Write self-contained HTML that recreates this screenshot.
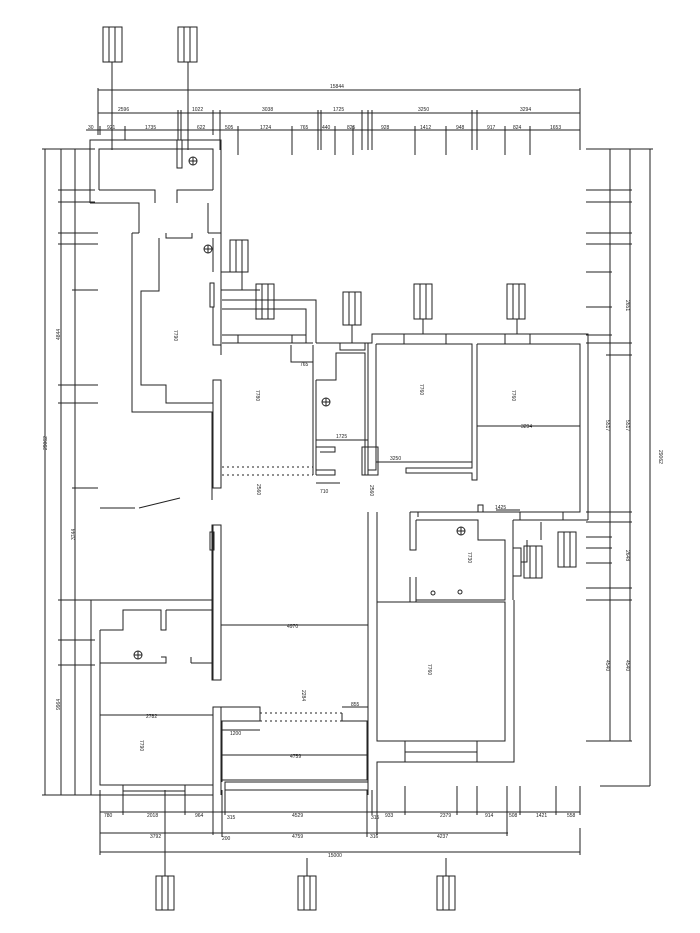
<!DOCTYPE html>
<html><head><meta charset="utf-8"><style>
html,body{margin:0;padding:0;background:#fff;}
svg{display:block;}
text{font-family:"Liberation Sans",sans-serif;font-size:5px;fill:#222;}
</style></head><body>
<svg width="700" height="933" viewBox="0 0 700 933" xmlns="http://www.w3.org/2000/svg">
<g fill="none" stroke="#222" stroke-width="1">
<!-- top tags -->
<rect x="103" y="27" width="19" height="35"/><line x1="109" y1="27" x2="109" y2="62"/><line x1="115" y1="27" x2="115" y2="62"/>
<rect x="178" y="27" width="19" height="35"/><line x1="184" y1="27" x2="184" y2="62"/><line x1="190" y1="27" x2="190" y2="62"/>
<line x1="112" y1="62" x2="112" y2="150"/><line x1="188" y1="62" x2="188" y2="150"/>
<!-- top dims -->
<line x1="98" y1="90" x2="580" y2="90"/>
<line x1="98" y1="113" x2="580" y2="113"/>
<line x1="86" y1="130" x2="580" y2="130"/>
<path d="M98,88V135 M178,110V140 M181,110V140 M213,110V135 M220,110V150 M318,110V150 M321,110V150 M362,110V150 M368,110V150 M372,110V150 M472,110V150 M477,110V150 M580,88V150 M125,126V140 M238,126V155 M292,126V155 M335,126V155 M353,126V155 M415,126V155 M446,126V155 M505,126V155 M530,126V155 M100,126V135"/>
<!-- left dims -->
<line x1="45" y1="149" x2="45" y2="795"/><line x1="61" y1="149" x2="61" y2="795"/><line x1="75" y1="149" x2="75" y2="795"/>
<path d="M42,149H95 M58,190H95 M58,202H95 M58,233H98 M58,244H98 M72,290H98 M58,385H98 M58,403H98 M72,488H98 M58,600H95 M58,640H95 M58,665H95 M42,795H95"/>
<!-- right dims -->
<line x1="610" y1="149" x2="610" y2="741"/><line x1="630" y1="149" x2="630" y2="741"/><line x1="650" y1="149" x2="650" y2="786"/>
<path d="M586,149H653 M586,190H632 M586,202H632 M586,233H632 M586,244H632 M586,272H612 M586,307H612 M586,335H612 M586,343H632 M606,355H632 M586,512H632 M586,522H632 M586,537H612 M586,548H612 M586,563H612 M586,588H632 M586,600H632 M586,741H632 M625,786H650"/>
<!-- bottom dims -->
<line x1="100" y1="812" x2="580" y2="812"/><line x1="100" y1="833" x2="508" y2="833"/><line x1="100" y1="852" x2="580" y2="852"/>
<path d="M100,790V855 M123,790V815 M185,790V815 M213,795V835 M222,790V837 M225,790V815 M367,790V837 M372,790V815 M377,790V835 M405,786V815 M457,786V815 M477,786V815 M507,786V836 M520,786V815 M556,786V815 M580,786V815 M580,828V855"/>
<!-- bottom tags -->
<rect x="156" y="876" width="18" height="34"/><line x1="162" y1="876" x2="162" y2="910"/><line x1="168" y1="876" x2="168" y2="910"/>
<rect x="298" y="876" width="18" height="34"/><line x1="304" y1="876" x2="304" y2="910"/><line x1="310" y1="876" x2="310" y2="910"/>
<rect x="437" y="876" width="18" height="34"/><line x1="443" y1="876" x2="443" y2="910"/><line x1="449" y1="876" x2="449" y2="910"/>
<line x1="165" y1="790" x2="165" y2="876"/><line x1="307" y1="858" x2="307" y2="876"/><line x1="446" y1="858" x2="446" y2="876"/>

<!-- ===== walls ===== -->
<!-- top-left block -->
<path d="M90,203V140H221V355 M99,190V149H213V190 M99,190H155V203 M177,203V190H213 M90,203H139V233 M208,203V233"/>
<rect x="177" y="140" width="5" height="28"/>
<circle cx="193" cy="161" r="4"/><path d="M189,161H197 M193,157V165"/>
<!-- left room -->
<path d="M132,233V412H212V500 M132,233H139 M208,233H221 M166,233V238H192V233 M159,238V291H141V385H166V403H213V380 M213,238V272 M213,307V345H221"/>
<rect x="210" y="283" width="4" height="24"/>
<circle cx="208" cy="249" r="4"/><path d="M204,249H212 M208,245V253"/>
<!-- service area -->
<path d="M222,300H316V343 M222,309H306V335H222 M306,335V343 M222,343H313 M221,272H232 M221,290H260"/>
<rect x="238" y="335" width="54" height="8"/>
<path d="M316,343H340 M365,343H372V334H588V520 M372,334V343"/>
<rect x="340" y="343" width="25" height="7"/>
<!-- living (7780) -->
<rect x="213" y="380" width="8" height="108"/>
<path d="M313,345V475 M316,380V475 M316,380H336V353H365V475 M365,353V468 M368,343V475 M316,447H335V452H320 M316,470H335V475H316"/>
<path d="M222,467H313 M222,475H313" stroke-dasharray="2,3"/>
<circle cx="326" cy="402" r="4"/><path d="M322,402H330 M326,398V406"/>
<!-- right rooms -->
<path d="M376,344V470H368 M376,344H472V468H406V473H472V480H477V344 M477,344H580V512H418V517 M580,344V512 M477,426H580"/>
<rect x="404" y="334" width="42" height="10"/>
<rect x="505" y="334" width="25" height="10"/>
<rect x="362" y="447" width="16" height="28"/>
<!-- lower right room 7730 -->
<path d="M410,512H472 M416,520V550H410V512 M416,577V602H410V577 M416,520H478V540H505V600H416 M513,520V600 M513,520H588 M478,512V505H483V512"/>
<rect x="520" y="512" width="43" height="8"/>
<rect x="513" y="548" width="8" height="28"/>
<circle cx="461" cy="531" r="4"/><path d="M457,531H465 M461,527V535"/>
<circle cx="433" cy="593" r="2"/><circle cx="460" cy="592" r="2"/>
<!-- right tags near 7730 -->
<path d="M521,562H527V540 M541,540V522"/>
<!-- lower right bedroom 7760 -->
<path d="M377,602H505V741H377Z M514,600V762H377V795 M368,512V795 M377,512V741"/>
<rect x="405" y="741" width="72" height="21"/><line x1="405" y1="752" x2="477" y2="752"/>
<!-- middle hall walls -->
<path d="M212,525V680H221V525Z"/>
<rect x="213" y="525" width="8" height="155"/>
<rect x="210" y="532" width="4" height="18"/>
<line x1="221" y1="625" x2="368" y2="625"/>
<!-- lower left -->
<path d="M91,600V795H213V707H221V795 M91,600H212 M100,630V785H213 M100,630H123V610H161V630H166V610 M166,610H212 M100,663H166V657H161 M191,663H212 M191,657V663"/>
<rect x="123" y="785" width="62" height="6"/>
<line x1="100" y1="715" x2="213" y2="715"/>
<circle cx="138" cy="655" r="4"/><path d="M134,655H142 M138,651V659"/>
<!-- lower middle -->
<path d="M221,707H260V721H222V782 M342,713V721H367V780H225 M342,707H368 M222,780H367"/>
<path d="M260,713H342 M260,721H342" stroke-dasharray="2,3"/>
<path d="M225,782H368V790H225Z"/>
<line x1="222" y1="755" x2="367" y2="755"/>
<line x1="222" y1="730" x2="260" y2="730"/>
<!-- misc dim lines -->
<path d="M291,345V362H313 M316,440H368 M316,483H340 M376,462H472 M477,426H580 M496,510H520 M139,508L180,498 M100,508H135"/>
<!-- small tags in middle -->
<rect x="230" y="240" width="18" height="32"/><line x1="236" y1="240" x2="236" y2="272"/><line x1="242" y1="240" x2="242" y2="272"/>
<line x1="242" y1="272" x2="242" y2="290"/><line x1="221" y1="290" x2="242" y2="290"/>
<rect x="256" y="284" width="18" height="35"/><line x1="262" y1="284" x2="262" y2="319"/><line x1="268" y1="284" x2="268" y2="319"/>
<rect x="343" y="292" width="18" height="33"/><line x1="349" y1="292" x2="349" y2="325"/><line x1="355" y1="292" x2="355" y2="325"/>
<line x1="352" y1="325" x2="352" y2="343"/>
<rect x="414" y="284" width="18" height="35"/><line x1="420" y1="284" x2="420" y2="319"/><line x1="426" y1="284" x2="426" y2="319"/>
<line x1="423" y1="319" x2="423" y2="334"/>
<rect x="507" y="284" width="18" height="35"/><line x1="513" y1="284" x2="513" y2="319"/><line x1="519" y1="284" x2="519" y2="319"/>
<line x1="517" y1="319" x2="517" y2="334"/>
<rect x="524" y="546" width="18" height="32"/><line x1="530" y1="546" x2="530" y2="578"/><line x1="536" y1="546" x2="536" y2="578"/>
<rect x="558" y="532" width="18" height="35"/><line x1="564" y1="532" x2="564" y2="567"/><line x1="570" y1="532" x2="570" y2="567"/>
<!-- far right outer short lines -->
<path d="M586,149H590 M600,786H650"/>
</g>
<g>
<text x="330" y="88">15844</text>
<text x="118" y="111">2596</text><text x="192" y="111">1022</text><text x="262" y="111">3038</text><text x="333" y="111">1725</text><text x="418" y="111">3250</text><text x="520" y="111">3294</text>
<text x="88" y="129">30</text><text x="107" y="129">921</text><text x="145" y="129">1735</text><text x="197" y="129">622</text><text x="225" y="129">505</text><text x="260" y="129">1724</text><text x="300" y="129">765</text><text x="322" y="129">440</text><text x="347" y="129">825</text><text x="381" y="129">928</text><text x="420" y="129">1412</text><text x="456" y="129">948</text><text x="487" y="129">917</text><text x="513" y="129">824</text><text x="550" y="129">1653</text>
<text x="104" y="817">780</text><text x="147" y="817">2018</text><text x="195" y="817">964</text><text x="227" y="819">315</text><text x="292" y="817">4529</text><text x="371" y="819">315</text><text x="385" y="817">933</text><text x="440" y="817">2379</text><text x="485" y="817">914</text><text x="509" y="817">508</text><text x="536" y="817">1421</text><text x="567" y="817">558</text>
<text x="150" y="838">3792</text><text x="222" y="840">200</text><text x="292" y="838">4759</text><text x="370" y="838">316</text><text x="437" y="838">4237</text>
<text x="328" y="857">15000</text>
<text x="287" y="628">4970</text><text x="146" y="718">2782</text><text x="230" y="735">1200</text><text x="290" y="758">4759</text><text x="351" y="706">855</text>
<text x="300" y="366">765</text><text x="336" y="438">1725</text><text x="390" y="460">3250</text><text x="521" y="428">3294</text><text x="320" y="493">710</text><text x="495" y="509">1425</text>
<text transform="translate(256,390) rotate(90)">7780</text>
<text transform="translate(174,330) rotate(90)">7790</text>
<text transform="translate(420,384) rotate(90)">7760</text>
<text transform="translate(512,390) rotate(90)">7760</text>
<text transform="translate(468,552) rotate(90)">7730</text>
<text transform="translate(428,664) rotate(90)">7760</text>
<text transform="translate(140,740) rotate(90)">7790</text>
<text transform="translate(257,484) rotate(90)">2560</text>
<text transform="translate(302,690) rotate(90)">2284</text>
<text transform="translate(370,485) rotate(90)">2560</text>
<text transform="translate(47,450) rotate(-90)">29062</text>
<text transform="translate(659,450) rotate(90)">29062</text>
<text transform="translate(60,340) rotate(-90)">4844</text>
<text transform="translate(75,540) rotate(-90)">3744</text>
<text transform="translate(60,710) rotate(-90)">9964</text>
<text transform="translate(626,300) rotate(90)">2651</text>
<text transform="translate(626,420) rotate(90)">5517</text>
<text transform="translate(606,420) rotate(90)">5517</text>
<text transform="translate(626,550) rotate(90)">2648</text>
<text transform="translate(606,660) rotate(90)">4540</text>
<text transform="translate(626,660) rotate(90)">4540</text>
</g>
</svg>
</body></html>
